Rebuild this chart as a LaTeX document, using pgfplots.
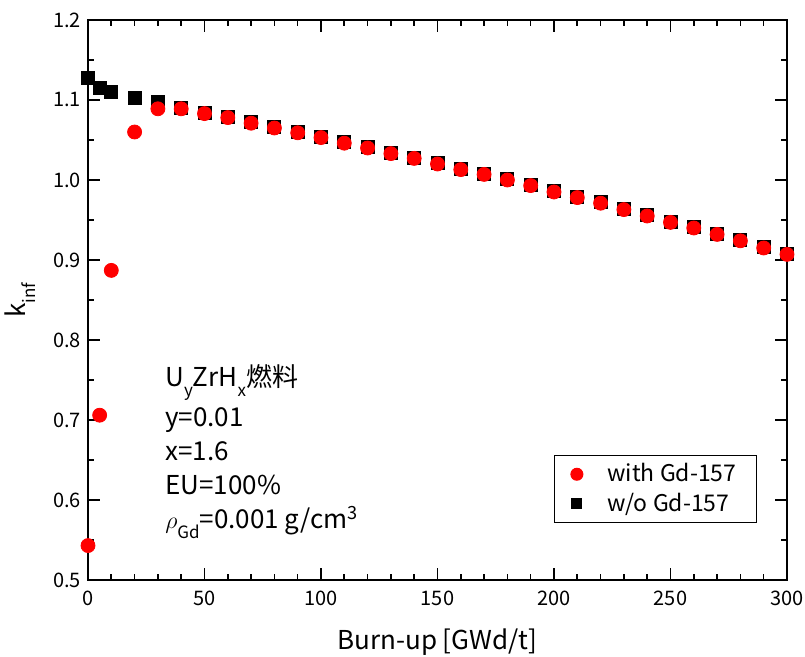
\documentclass[border=0pt]{standalone}
\usepackage{fontspec}
\setmainfont{Noto Sans CJK JP}
\usepackage{pgfplots}
\pgfplotsset{compat=1.18}
\newcommand{\lsub}[1]{\raisebox{-0.38em}{\fontsize{8.5}{9}\selectfont #1}}
\begin{document}
\begin{tikzpicture}
\begin{axis}[
  scale only axis, width=349.5pt, height=280pt,
  at={(0,0)}, anchor=south west,
  xmin=0, xmax=300, ymin=0.5, ymax=1.2,
  xtick={0,50,100,150,200,250,300}, minor x tick num=4,
  ytick={0.5,0.6,0.7,0.8,0.9,1.0,1.1,1.2}, minor y tick num=1,
  tick align=inside, major tick length=6pt, minor tick length=3pt,
  axis line style={line width=1pt},
  every tick/.style={line width=0.8pt, black},
  /pgf/number format/assume math mode=true,
  yticklabel style={/pgf/number format/.cd, fixed, fixed zerofill, precision=1},
  ticklabel style={font=\fontsize{10}{12}\selectfont},
  xticklabel style={yshift=-2pt},
  xlabel={Burn-up [GWd/t]},
  ylabel={k\lsub{inf}},
  xlabel style={yshift=-4.5pt},
  ylabel style={yshift=2pt},
  label style={font=\fontsize{13}{15}\selectfont},
  clip=false,
  legend style={at={(0.957,0.223)}, anchor=north east, draw=black, line width=0.5pt,
    font=\fontsize{11.5}{14}\selectfont, inner xsep=8pt, inner ysep=2pt, row sep=0pt},
  legend cell align=left,
]
\addlegendimage{only marks, mark=*, mark size=3pt, color=red}
\addlegendentry{\ \ \ \ with Gd-157}
\addlegendimage{only marks, mark=square*, mark size=2.5pt, color=black}
\addlegendentry{\ \ \ \ w/o Gd-157}
\addplot[forget plot, only marks, mark=square*, mark size=3.25pt, color=black] table {
x y
0 1.127
5 1.115
10 1.110
20 1.102
30 1.097
40 1.090
50 1.084
60 1.079
70 1.072
80 1.066
90 1.060
100 1.054
110 1.047
120 1.041
130 1.034
140 1.028
150 1.021
160 1.014
170 1.008
180 1.001
190 0.994
200 0.986
210 0.979
220 0.972
230 0.964
240 0.956
250 0.948
260 0.941
270 0.933
280 0.925
290 0.916
300 0.908
};
\addplot[forget plot, only marks, mark=*, mark size=3.5pt, color=red] table {
x y
0 0.543
5 0.706
10 0.887
20 1.060
30 1.089
40 1.089
50 1.083
60 1.078
70 1.071
80 1.065
90 1.059
100 1.053
110 1.046
120 1.040
130 1.033
140 1.027
150 1.020
160 1.013
170 1.007
180 1.000
190 0.993
200 0.985
210 0.978
220 0.971
230 0.963
240 0.955
250 0.947
260 0.940
270 0.932
280 0.924
290 0.915
300 0.907
};
\node[anchor=north west, align=left, font=\fontsize{13}{17}\selectfont, inner sep=0pt]
  at (axis cs:33,0.77) {U\lsub{y}ZrH\lsub{x}燃料\\[3pt]y=0.01\\x=1.6\\EU=100\%\\$\rho$\lsub{Gd}=0.001 g/cm\textsuperscript{3}};
\end{axis}
\pgfresetboundingbox
\path (-44pt,-38.5pt) rectangle (358.5pt,290pt);
\end{tikzpicture}
\end{document}
